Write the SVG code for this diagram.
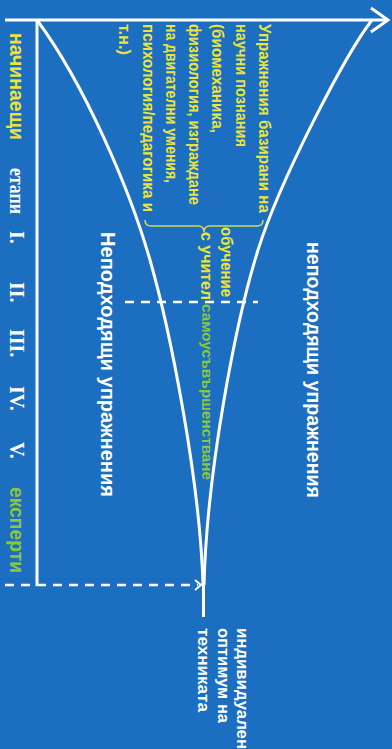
<svg xmlns="http://www.w3.org/2000/svg" width="392" height="749" viewBox="0 0 392 749">
<style>
.ln{fill:none;stroke:#fff;stroke-width:3}
.dash{fill:none;stroke:#fff;stroke-width:2.5;stroke-dasharray:9 7}
.t{font-family:"Liberation Sans",Arial,sans-serif;font-weight:bold}
.s{font-family:"Liberation Serif","Times New Roman",serif;font-weight:bold}
.w{fill:#fff}
.y{fill:#ece43c}
.g{fill:#8cc63f}
</style>
<rect width="392" height="749" fill="#1b6ec0"/>
<g id="connectors">
  <line x1="5" y1="20" x2="387" y2="20" class="ln"/>
  <polyline points="371,8 388,20 371,32" class="ln"/>
  <line x1="37" y1="20" x2="37" y2="586" class="ln"/>
  <path d="M37,20 C85,85 130,190 150,260 S200,480 203,585" class="ln"/>
  <path d="M372,20 C345,55 280,180 258,250 S207,470 204,585" class="ln"/>
  <line x1="203.5" y1="580" x2="203.5" y2="617" class="ln"/>
  <line x1="5" y1="585" x2="198" y2="585" class="dash"/>
  <polyline points="195,580 201,585 195,590" fill="none" stroke="#fff" stroke-width="2"/>
  <line x1="125" y1="302" x2="258" y2="302" class="dash"/>
  <path d="M145,220 Q145,226 151,226 L198,226 Q204,226 204,232 Q204,226 210,226 L257,226 Q263,226 263,220" fill="none" stroke="#cfdc5a" stroke-width="1.5"/>
</g>
<g id="stages">
  <text class="t y" font-size="20" transform="translate(10,33) rotate(90)" textLength="107" lengthAdjust="spacingAndGlyphs">начинаещи</text>
  <text class="s w" font-size="20" transform="translate(10,168) rotate(90)" textLength="46" lengthAdjust="spacingAndGlyphs">етапи</text>
  <text class="s w" font-size="20" transform="translate(10,231) rotate(90)">I.</text>
  <text class="s w" font-size="20" transform="translate(10,282) rotate(90)">II.</text>
  <text class="s w" font-size="20" transform="translate(10,329) rotate(90)">III.</text>
  <text class="s w" font-size="20" transform="translate(10,386) rotate(90)">IV.</text>
  <text class="s w" font-size="20" transform="translate(10,442) rotate(90)">V.</text>
  <text class="t g" font-size="20" transform="translate(10,487) rotate(90)" textLength="86" lengthAdjust="spacingAndGlyphs">експерти</text>
</g>
<g id="scientific-exercises">
  <text class="t y" font-size="16" transform="translate(259,24) rotate(90)" textLength="189" lengthAdjust="spacingAndGlyphs">Упражнения базирани на</text>
  <text class="t y" font-size="16" transform="translate(235.7,24) rotate(90)" textLength="123" lengthAdjust="spacingAndGlyphs">научни познания</text>
  <text class="t y" font-size="16" transform="translate(212.4,24) rotate(90)" textLength="109" lengthAdjust="spacingAndGlyphs">(биомеханика,</text>
  <text class="t y" font-size="16" transform="translate(189.1,24) rotate(90)" textLength="181" lengthAdjust="spacingAndGlyphs">физиология, изграждане</text>
  <text class="t y" font-size="16" transform="translate(165.8,24) rotate(90)" textLength="159" lengthAdjust="spacingAndGlyphs">на двигателни умения,</text>
  <text class="t y" font-size="16" transform="translate(142.5,24) rotate(90)" textLength="188" lengthAdjust="spacingAndGlyphs">психология/педагогика и</text>
  <text class="t y" font-size="16" transform="translate(119.2,24) rotate(90)" textLength="31" lengthAdjust="spacingAndGlyphs">т.н.)</text>
</g>
<g id="teacher-training">
  <text class="t y" font-size="16" transform="translate(221,227) rotate(90)" textLength="70" lengthAdjust="spacingAndGlyphs">обучение</text>
  <text class="t y" font-size="16" transform="translate(201,232) rotate(90)" textLength="68" lengthAdjust="spacingAndGlyphs">с учител</text>
</g>
<g id="self-improvement">
  <text class="t g" font-size="15" transform="translate(202,304) rotate(90)" textLength="176" lengthAdjust="spacingAndGlyphs">самоусъвършенстване</text>
</g>
<g id="unsuitable-right">
  <text class="t w" font-size="20" transform="translate(307,242) rotate(90)" textLength="256" lengthAdjust="spacingAndGlyphs">неподходящи упражнения</text>
</g>
<g id="unsuitable-left">
  <text class="t w" font-size="20" transform="translate(101,232) rotate(90)" textLength="265" lengthAdjust="spacingAndGlyphs">Неподходящи упражнения</text>
</g>
<g id="optimum">
  <text class="t w" font-size="16.5" transform="translate(237,628) rotate(90)" textLength="121" lengthAdjust="spacingAndGlyphs">индивидуален</text>
  <text class="t w" font-size="16.5" transform="translate(217.5,628) rotate(90)" textLength="95" lengthAdjust="spacingAndGlyphs">оптимум на</text>
  <text class="t w" font-size="16.5" transform="translate(198,628) rotate(90)" textLength="84" lengthAdjust="spacingAndGlyphs">техниката</text>
</g>
</svg>
